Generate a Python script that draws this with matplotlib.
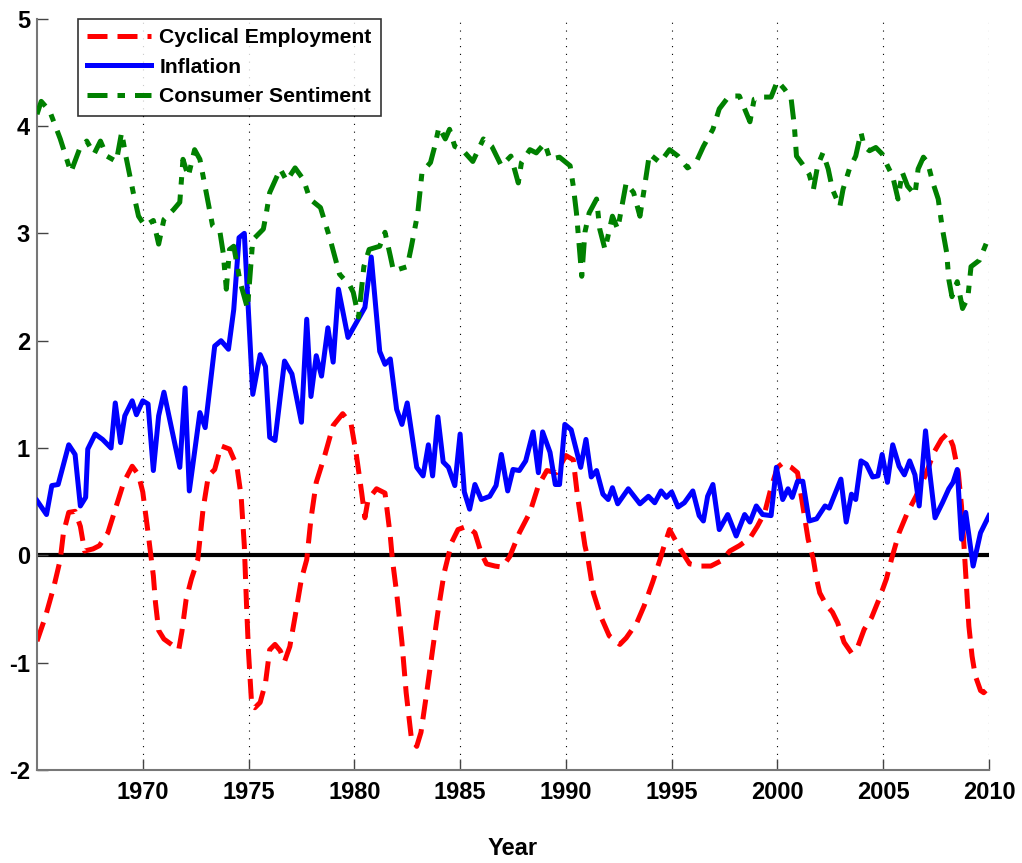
import numpy as np
import matplotlib
matplotlib.use("Agg")
import matplotlib.pyplot as plt

plt.rcParams["font.family"] = "Liberation Sans"
plt.rcParams["font.weight"] = "bold"
plt.rcParams["axes.unicode_minus"] = False

# cyclical employment
emp_t = [1965.0, 1965.4, 1965.8, 1966.1, 1966.25, 1966.5, 1966.8, 1967.05, 1967.25, 1967.65,
         1967.95, 1968.35, 1968.7, 1969.1, 1969.5, 1969.8, 1970.0, 1970.25, 1970.5, 1970.6,
         1970.75, 1971.0, 1971.35, 1971.7, 1971.85, 1972.05, 1972.3, 1972.6, 1972.85, 1973.1,
         1973.4, 1973.7, 1974.1, 1974.45, 1974.65, 1974.8, 1974.9, 1975.0, 1975.15, 1975.3,
         1975.55, 1975.8, 1976.0, 1976.25, 1976.5, 1976.7, 1976.95, 1977.2, 1977.5, 1977.75,
         1977.95, 1978.2, 1978.6, 1979.0, 1979.45, 1979.85, 1980.1, 1980.35, 1980.5, 1980.65,
         1981.05, 1981.45, 1981.7, 1981.8, 1982.0, 1982.25, 1982.45, 1982.7, 1982.95, 1983.15,
         1983.4, 1983.7, 1983.95, 1984.25, 1984.6, 1984.9, 1985.3, 1985.7, 1986.0, 1986.25,
         1986.65, 1987.0, 1987.35, 1987.8, 1988.3, 1988.7, 1989.1, 1989.55, 1990.0, 1990.35,
         1990.55, 1990.9, 1991.05, 1991.3, 1991.65, 1992.05, 1992.55, 1992.85, 1993.35, 1993.7,
         1994.1, 1994.45, 1994.6, 1994.9, 1995.4, 1995.85, 1996.4, 1996.85, 1997.35, 1997.75,
         1998.2, 1998.7, 1999.05, 1999.4, 1999.7, 2000.0, 2000.25, 2000.65, 2000.95, 2001.2,
         2001.45, 2001.7, 2001.85, 2002.0, 2002.3, 2002.6, 2002.85, 2003.15, 2003.5, 2003.8,
         2004.1, 2004.45, 2004.8, 2005.15, 2005.4, 2005.75, 2006.15, 2006.55, 2007.0, 2007.4,
         2007.75, 2008.05, 2008.3, 2008.55, 2008.7, 2008.85, 2009.05, 2009.2, 2009.35, 2009.6,
         2009.75, 2010.0]
emp_v = [-0.80, -0.57, -0.29, -0.04, 0.21, 0.40, 0.41, 0.27, 0.04, 0.06,
         0.09, 0.21, 0.43, 0.68, 0.83, 0.75, 0.59, 0.21, -0.19, -0.44,
         -0.70, -0.78, -0.83, -0.88, -0.71, -0.41, -0.22, -0.04, 0.43, 0.74,
         0.80, 1.02, 0.99, 0.83, 0.55, 0.09, -0.44, -0.91, -1.40, -1.42,
         -1.37, -1.19, -0.88, -0.83, -0.89, -0.99, -0.85, -0.57, -0.22, -0.04,
         0.34, 0.68, 0.93, 1.21, 1.32, 1.22, 0.93, 0.58, 0.35, 0.52,
         0.62, 0.58, 0.18, -0.04, -0.35, -0.81, -1.28, -1.71, -1.78, -1.65,
         -1.31, -0.88, -0.53, -0.16, 0.12, 0.24, 0.27, 0.21, 0.02, -0.08,
         -0.10, -0.11, -0.01, 0.21, 0.40, 0.65, 0.79, 0.77, 0.93, 0.89,
         0.55, 0.09, -0.04, -0.35, -0.57, -0.75, -0.83, -0.77, -0.63, -0.47,
         -0.25, -0.04, 0.06, 0.24, 0.06, -0.08, -0.10, -0.10, -0.05, 0.04,
         0.09, 0.16, 0.27, 0.40, 0.63, 0.82, 0.86, 0.82, 0.77, 0.46,
         0.15, -0.04, -0.22, -0.35, -0.46, -0.53, -0.63, -0.81, -0.91, -0.85,
         -0.69, -0.58, -0.41, -0.22, -0.03, 0.21, 0.40, 0.55, 0.75, 0.96,
         1.08, 1.14, 1.02, 0.77, 0.46, -0.01, -0.66, -0.94, -1.12, -1.26,
         -1.28, -1.23]

# inflation
inf_t = [1965.0, 1965.45, 1965.7, 1966.0, 1966.5, 1966.8, 1967.05, 1967.3, 1967.4, 1967.75,
         1968.1, 1968.5, 1968.7, 1968.95, 1969.15, 1969.5, 1969.7, 1970.0, 1970.25, 1970.5,
         1970.75, 1971.0, 1971.3, 1971.75, 1972.0, 1972.2, 1972.7, 1972.95, 1973.4, 1973.7,
         1974.05, 1974.3, 1974.55, 1974.8, 1975.2, 1975.55, 1975.8, 1976.0, 1976.25, 1976.7,
         1977.05, 1977.5, 1977.75, 1977.95, 1978.2, 1978.45, 1978.75, 1979.0, 1979.25, 1979.7,
         1980.1, 1980.5, 1980.8, 1981.2, 1981.45, 1981.7, 1982.0, 1982.25, 1982.5, 1982.95,
         1983.25, 1983.5, 1983.7, 1983.95, 1984.2, 1984.45, 1984.75, 1985.0, 1985.2, 1985.45,
         1985.7, 1986.0, 1986.4, 1986.7, 1986.95, 1987.25, 1987.5, 1987.8, 1988.1, 1988.45,
         1988.7, 1988.9, 1989.25, 1989.5, 1989.7, 1989.95, 1990.25, 1990.7, 1990.95, 1991.2,
         1991.45, 1991.75, 1992.0, 1992.2, 1992.45, 1992.95, 1993.5, 1993.9, 1994.2, 1994.5,
         1994.75, 1995.0, 1995.3, 1995.6, 1996.0, 1996.3, 1996.5, 1996.7, 1996.95, 1997.25,
         1997.65, 1998.05, 1998.45, 1998.7, 1999.0, 1999.3, 1999.7, 1999.95, 2000.25, 2000.5,
         2000.7, 2000.95, 2001.2, 2001.5, 2001.85, 2002.25, 2002.45, 2003.0, 2003.25, 2003.5,
         2003.7, 2003.95, 2004.2, 2004.5, 2004.75, 2004.95, 2005.2, 2005.45, 2005.75, 2006.0,
         2006.25, 2006.5, 2006.7, 2007.0, 2007.2, 2007.45, 2007.8, 2008.1, 2008.3, 2008.5,
         2008.7, 2008.9, 2009.25, 2009.6, 2010.0]
inf_v = [0.51, 0.38, 0.65, 0.66, 1.03, 0.94, 0.46, 0.54, 0.99, 1.13,
         1.08, 1.00, 1.42, 1.05, 1.30, 1.44, 1.31, 1.44, 1.41, 0.79,
         1.30, 1.52, 1.24, 0.82, 1.56, 0.60, 1.33, 1.19, 1.95, 2.00,
         1.92, 2.29, 2.96, 3.00, 1.50, 1.87, 1.76, 1.10, 1.07, 1.81,
         1.69, 1.24, 2.20, 1.48, 1.86, 1.67, 2.12, 1.80, 2.48, 2.03,
         2.17, 2.31, 2.78, 1.90, 1.78, 1.83, 1.36, 1.22, 1.42, 0.82,
         0.74, 1.03, 0.74, 1.29, 0.87, 0.82, 0.65, 1.13, 0.59, 0.43,
         0.66, 0.52, 0.55, 0.65, 0.94, 0.60, 0.80, 0.79, 0.88, 1.15,
         0.77, 1.15, 0.96, 0.66, 0.66, 1.22, 1.17, 0.82, 1.08, 0.73,
         0.79, 0.57, 0.52, 0.63, 0.48, 0.62, 0.48, 0.55, 0.49, 0.60,
         0.54, 0.59, 0.45, 0.49, 0.60, 0.37, 0.32, 0.55, 0.66, 0.24,
         0.38, 0.18, 0.38, 0.31, 0.46, 0.38, 0.37, 0.82, 0.52, 0.62,
         0.54, 0.69, 0.69, 0.32, 0.34, 0.46, 0.44, 0.71, 0.31, 0.57,
         0.52, 0.88, 0.85, 0.73, 0.74, 0.94, 0.68, 1.03, 0.83, 0.75,
         0.88, 0.75, 0.46, 1.16, 0.77, 0.35, 0.49, 0.62, 0.68, 0.80,
         0.15, 0.40, -0.10, 0.21, 0.37]

# consumer sentiment
sent_t = [1965.0, 1965.2, 1965.6, 1966.1, 1966.6, 1967.0, 1967.35, 1967.7, 1968.0, 1968.3,
          1968.75, 1969.0, 1969.2, 1969.55, 1969.8, 1970.1, 1970.5, 1970.75, 1971.0, 1971.45,
          1971.75, 1971.9, 1972.15, 1972.45, 1972.7, 1973.0, 1973.3, 1973.65, 1973.8, 1973.95,
          1974.1, 1974.3, 1974.6, 1974.95, 1975.2, 1975.7, 1975.85, 1976.0, 1976.5, 1976.8,
          1977.2, 1977.6, 1977.9, 1978.4, 1978.85, 1979.3, 1979.8, 1979.95, 1980.2, 1980.45,
          1980.7, 1981.2, 1981.45, 1981.7, 1981.85, 1982.5, 1982.7, 1983.0, 1983.2, 1983.6,
          1983.8, 1984.0, 1984.3, 1984.5, 1984.75, 1985.1, 1985.6, 1986.1, 1986.5, 1986.95,
          1987.4, 1987.75, 1987.9, 1988.3, 1988.6, 1989.0, 1989.25, 1989.7, 1990.2, 1990.35,
          1990.5, 1990.75, 1990.9, 1991.1, 1991.45, 1991.6, 1991.85, 1992.2, 1992.45, 1992.85,
          1993.2, 1993.5, 1993.7, 1993.95, 1994.45, 1994.9, 1995.3, 1995.75, 1996.15, 1996.5,
          1996.95, 1997.25, 1997.6, 1997.8, 1998.2, 1998.45, 1998.7, 1998.9, 1999.3, 1999.7,
          2000.0, 2000.35, 2000.65, 2000.8, 2000.9, 2001.2, 2001.5, 2001.7, 2001.9, 2002.15,
          2002.4, 2002.6, 2002.95, 2003.1, 2003.4, 2003.7, 2003.95, 2004.1, 2004.35, 2004.65,
          2004.95, 2005.2, 2005.45, 2005.7, 2005.9, 2006.15, 2006.5, 2006.65, 2006.9, 2007.1,
          2007.35, 2007.6, 2007.8, 2008.0, 2008.1, 2008.25, 2008.5, 2008.75, 2009.0, 2009.15,
          2009.55, 2010.0]
sent_v = [4.11, 4.23, 4.14, 3.88, 3.57, 3.78, 3.86, 3.74, 3.86, 3.72,
          3.67, 3.94, 3.72, 3.38, 3.16, 3.07, 3.12, 2.90, 3.13, 3.22,
          3.29, 3.69, 3.53, 3.78, 3.69, 3.38, 3.07, 3.01, 2.82, 2.48,
          2.85, 2.88, 2.55, 2.30, 2.94, 3.04, 3.20, 3.38, 3.60, 3.49,
          3.61, 3.50, 3.32, 3.24, 2.95, 2.62, 2.51, 2.45, 2.22, 2.69,
          2.85, 2.88, 3.01, 2.79, 2.65, 2.69, 2.88, 3.19, 3.57, 3.66,
          3.81, 3.99, 3.88, 3.97, 3.81, 3.78, 3.67, 3.88, 3.81, 3.63,
          3.72, 3.47, 3.66, 3.78, 3.75, 3.84, 3.69, 3.71, 3.63, 3.44,
          3.19, 2.60, 3.01, 3.19, 3.32, 3.04, 2.85, 3.16, 3.04, 3.47,
          3.38, 3.16, 3.41, 3.74, 3.66, 3.78, 3.72, 3.61, 3.66, 3.81,
          3.97, 4.16, 4.25, 4.28, 4.28, 4.16, 4.04, 4.25, 4.27, 4.27,
          4.42, 4.34, 4.25, 4.00, 3.72, 3.64, 3.55, 3.41, 3.63, 3.75,
          3.60, 3.41, 3.25, 3.41, 3.60, 3.72, 3.94, 3.81, 3.77, 3.80,
          3.74, 3.63, 3.53, 3.32, 3.57, 3.44, 3.36, 3.60, 3.71, 3.66,
          3.47, 3.32, 3.04, 2.82, 2.57, 2.41, 2.55, 2.30, 2.40, 2.69,
          2.75, 2.97]

xticks = [1970, 1975, 1980, 1985, 1990, 1995, 2000, 2005, 2010]
yticks = [-2, -1, 0, 1, 2, 3, 4, 5]

fig = plt.figure(figsize=(10.22, 8.63), dpi=100)
ax = fig.add_axes([0.0362, 0.1078, 0.9315, 0.8705])

for x in xticks:
    ax.axvline(x, color='black', lw=0.8, ls=(0, (1, 6)), zorder=0)
ax.axhline(0, color='black', lw=3, zorder=1)

ax.plot(emp_t, emp_v, color='red', lw=3.6, dashes=(4, 2), label='Cyclical Employment', zorder=2)
ax.plot(inf_t, inf_v, color='blue', lw=3.6, label='Inflation', zorder=3)
ax.plot(sent_t, sent_v, color='green', lw=3.6, dashes=(4, 2, 1.5, 2), label='Consumer Sentiment', zorder=4)

ax.set_xlim(1965, 2010)
ax.set_ylim(-2, 5)
ax.set_xticks(xticks)
ax.set_xticklabels([str(x) for x in xticks])
ax.set_yticks(yticks)
ax.set_yticklabels([str(y) for y in yticks])
ax.tick_params(direction='in', length=8, width=1, colors='#444444', labelcolor='black',
               labelsize=17)
ax.tick_params(axis='y', pad=5)
ax.tick_params(axis='x', pad=8)
ax.spines['top'].set_visible(False)
ax.spines['right'].set_visible(False)
for s in ['left', 'bottom']:
    ax.spines[s].set_color('#777777')
    ax.spines[s].set_linewidth(1.5)
ax.set_xlabel('Year', fontsize=17, fontweight='bold', labelpad=24)

leg = ax.legend(loc='upper left', bbox_to_anchor=(0.043, 1.0), borderaxespad=0,
                fontsize=15.2, frameon=True, fancybox=False, edgecolor='black',
                handlelength=3.0, handletextpad=0.4, borderpad=0.45, labelspacing=0.5)
leg.get_frame().set_linewidth(1.2)

plt.savefig('out.png', dpi=100)
